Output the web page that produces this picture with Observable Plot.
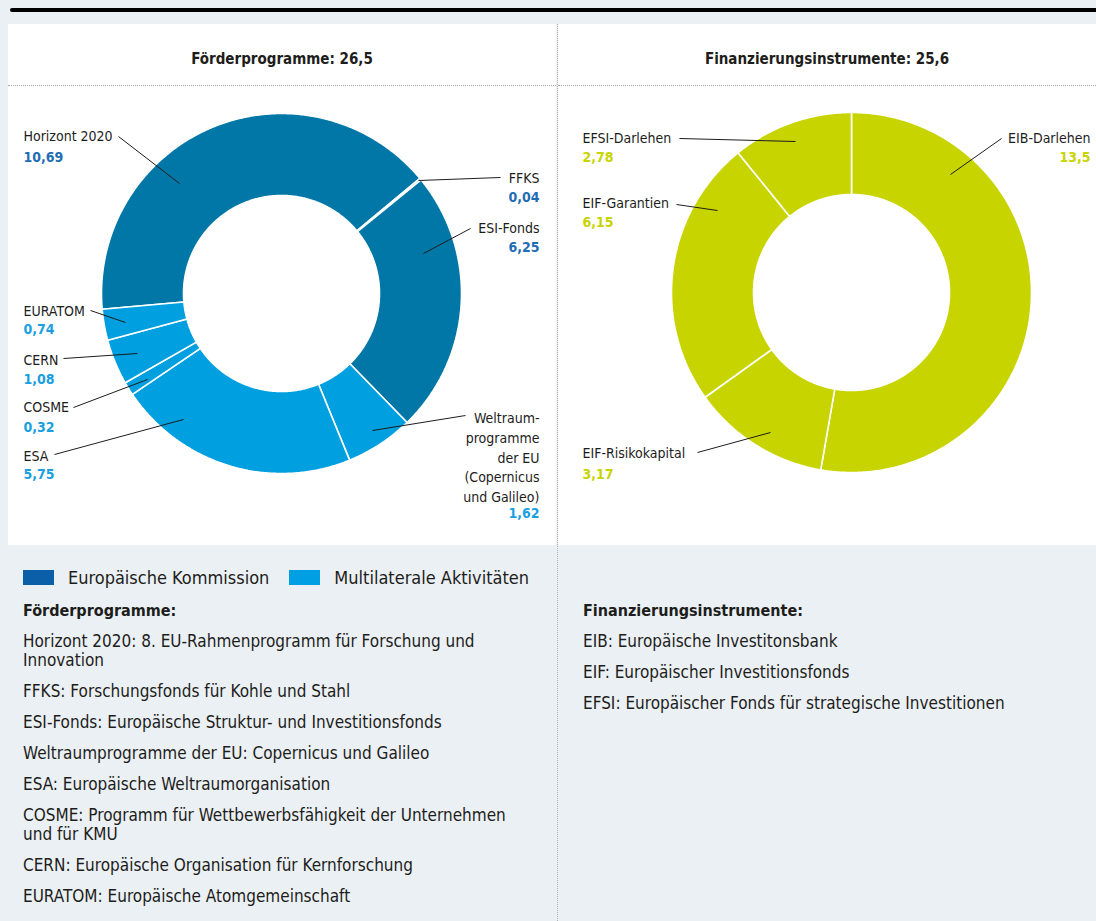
<!DOCTYPE html>
<html><head><meta charset="utf-8">
<script src="https://cdn.jsdelivr.net/npm/d3@7"></script>
<script src="https://cdn.jsdelivr.net/npm/@observablehq/plot@0.6"></script>
<style>
body{margin:0;background:#ebf0f4;font-family:"DejaVu Sans Condensed","DejaVu Sans",sans-serif;font-stretch:condensed;color:#1d1d1b;}
#page{position:relative;width:1096px;height:921px;overflow:hidden;}
#topbar{position:absolute;left:10px;top:8px;width:1100px;height:4px;background:#000;border-radius:2px;}
.panel{position:absolute;top:24px;height:521px;background:#fff;}
#pl{left:8px;width:548px}
#pr{left:558px;width:538px}
.title{position:absolute;left:0;right:0;top:23px;height:24px;line-height:24px;text-align:center;font-weight:bold;font-size:15px;}
.hrule{position:absolute;left:0;right:0;top:61px;border-top:1px dotted #a9a9a9;}
.chart{position:absolute;left:0;top:62px;}
#vdiv{position:absolute;left:557px;top:24px;height:897px;border-left:1px dotted #b0b0b0;}
.notes{position:absolute;top:569px;font-size:17px;line-height:19px;white-space:nowrap;}
.legend{display:flex;align-items:center;height:19px;white-space:nowrap;font-size:18px;margin-top:-1px;margin-bottom:1px;}
.sw{display:inline-block;flex:none;width:31px;height:15px;margin-right:14px;}
.legend span.t{margin-right:20px}
.head{font-weight:bold;margin-top:14px;font-size:16px;}
.item{margin-top:12px;}
</style>
</head><body>
<div id="page">
  <div id="topbar"></div>
  <div class="panel" id="pl"><div class="title">Förderprogramme: 26,5</div><div class="hrule"></div><div class="chart" id="cl"></div></div>
  <div class="panel" id="pr"><div class="title">Finanzierungsinstrumente: 25,6</div><div class="hrule"></div><div class="chart" id="cr"></div></div>
  <div id="vdiv"></div>
  <div class="notes" style="left:23px;width:530px">
    <div class="legend"><span class="sw" style="background:#0a5fa8"></span><span class="t">Europäische Kommission</span><span class="sw" style="background:#009fe3"></span><span class="t">Multilaterale Aktivitäten</span></div>
    <div class="head">Förderprogramme:</div>
    <div class="item">Horizont 2020: 8. EU-Rahmenprogramm für Forschung und<br>Innovation</div>
    <div class="item">FFKS: Forschungsfonds für Kohle und Stahl</div>
    <div class="item">ESI-Fonds: Europäische Struktur- und Investitionsfonds</div>
    <div class="item">Weltraumprogramme der EU: Copernicus und Galileo</div>
    <div class="item">ESA: Europäische Weltraumorganisation</div>
    <div class="item">COSME: Programm für Wettbewerbsfähigkeit der Unternehmen<br>und für KMU</div>
    <div class="item">CERN: Europäische Organisation für Kernforschung</div>
    <div class="item">EURATOM: Europäische Atomgemeinschaft</div>
  </div>
  <div class="notes" style="left:583px;width:500px">
    <div class="legend"></div>
    <div class="head">Finanzierungsinstrumente:</div>
    <div class="item">EIB: Europäische Investitonsbank</div>
    <div class="item">EIF: Europäischer Investitionsfonds</div>
    <div class="item">EFSI: Europäischer Fonds für strategische Investitionen</div>
  </div>
</div>
<script>
// ---------- Data ----------
const groupNames = ["Europäische Kommission", "Multilaterale Aktivitäten"];
const groupSliceColors = ["#0077a7", "#009fe0"];
const groupValueColors = ["#1f6db4", "#1a9fe0"];

const foerderNames = ["Horizont 2020", "FFKS", "ESI-Fonds", "Weltraumprogramme der EU (Copernicus und Galileo)", "ESA", "COSME", "CERN", "EURATOM"];
const foerderLabels = ["Horizont 2020", "FFKS", "ESI-Fonds", "Weltraum-\nprogramme\nder EU\n(Copernicus\nund Galileo)", "ESA", "COSME", "CERN", "EURATOM"];
const foerderValues = [10.69, 0.04, 6.25, 1.62, 5.75, 0.32, 1.08, 0.74];
const foerderGroups = [0, 0, 0, 1, 1, 1, 1, 1];

const finNames = ["EIB-Darlehen", "EIF-Risikokapital", "EIF-Garantien", "EFSI-Darlehen"];
const finValues = [13.5, 3.17, 6.15, 2.78];
const finColor = "#c8d400";

// ---------- Annotation layout (chart units: px offsets from donut centre, y up) ----------
const foerderLayout = [
  {x: -258, y: 157, vy: 136, anchor: "start", l: [-163, 157, -102, 110]},
  {x: 258, y: 115, vy: 96, anchor: "end", l: [219, 116, 137, 113]},
  {x: 258, y: 65, vy: 46, anchor: "end", l: [189, 65, 142, 40]},
  {x: 258, y: -122, vy: -220, anchor: "end", l: [184, -122, 91, -137]},
  {x: -258, y: -163, vy: -181, anchor: "start", l: [-227, -161, -98, -126]},
  {x: -258, y: -114, vy: -134, anchor: "start", l: [-208, -114, -134, -86]},
  {x: -258, y: -67, vy: -86, anchor: "start", l: [-218, -65, -144, -60]},
  {x: -258, y: -18, vy: -36, anchor: "start", l: [-191, -17, -156, -29]}
];
const finLayout = [
  {x: 239, y: 154, vy: 135, anchor: "end", l: [150, 154, 99, 118]},
  {x: -269, y: -161, vy: -182, anchor: "start", l: [-154, -160, -81, -140]},
  {x: -269, y: 89, vy: 70, anchor: "start", l: [-175, 88, -134, 82]},
  {x: -269, y: 154, vy: 135, anchor: "start", l: [-172, 154, -56, 151]}
];

const R_OUT = 180, R_IN = 98;
const FONT = '"DejaVu Sans Condensed","DejaVu Sans",sans-serif';
const fmt = v => String(v).replace(".", ",");

function donut({names, labels, values, fills, valueFills, startDeg, layout, width, height, cx, cy}) {
  const rows = names.map((n, i) => ({name: n, value: values[i], fill: fills[i], vfill: valueFills[i], label: labels[i], ...layout[i]}));
  const a0 = startDeg * Math.PI / 180;
  const arcs = d3.pie().sort(null).value(d => d.value).startAngle(a0).endAngle(a0 + 2 * Math.PI)(rows);
  const pts = [];
  for (const a of arcs) {
    const n = Math.max(2, Math.ceil((a.endAngle - a.startAngle) / (Math.PI / 360)));
    for (let k = 0; k <= n; k++) {
      const t = a.startAngle + (a.endAngle - a.startAngle) * k / n;
      pts.push({name: a.data.name, fill: a.data.fill, x: R_OUT * Math.sin(t), y: R_OUT * Math.cos(t)});
    }
    for (let k = n; k >= 0; k--) {
      const t = a.startAngle + (a.endAngle - a.startAngle) * k / n;
      pts.push({name: a.data.name, fill: a.data.fill, x: R_IN * Math.sin(t), y: R_IN * Math.cos(t)});
    }
  }
  const fillDomain = Array.from(new Set(fills));
  const marks = [];
  for (const f of fillDomain) {
    marks.push(Plot.line(pts.filter(p => p.fill === f), {x: "x", y: "y", z: "name", fill: f, stroke: "white", strokeWidth: 1.6, curve: "linear-closed", strokeLinejoin: "miter"}));
  }
  marks.push(Plot.link(rows, {x1: d => d.l[0], y1: d => d.l[1], x2: d => d.l[2], y2: d => d.l[3], stroke: "#1d1d1b", strokeWidth: 1}));
  for (const anchor of ["start", "end"]) {
    const sub = rows.filter(d => d.anchor === anchor);
    marks.push(Plot.text(sub.filter(d => !d.label.includes("\n")), {x: "x", y: "y", text: "label", textAnchor: anchor, lineAnchor: "middle", fill: "#1d1d1b", fontSize: 14}));
    marks.push(Plot.text(sub.filter(d => d.label.includes("\n")), {x: "x", y: d => d.y + 6, text: "label", textAnchor: anchor, lineAnchor: "top", lineHeight: 1.4, fill: "#1d1d1b", fontSize: 14}));
    for (const vf of new Set(valueFills)) {
      marks.push(Plot.text(sub.filter(d => d.vfill === vf), {x: "x", y: "vy", text: d => fmt(d.value), textAnchor: anchor, lineAnchor: "middle", fill: vf, fontSize: 14, fontWeight: "bold"}));
    }
  }
  return Plot.plot({
    width, height, margin: 0,
    x: {domain: [-cx, width - cx], axis: null},
    y: {domain: [-(height - cy), cy], axis: null},
    style: {fontFamily: FONT, background: "transparent", overflow: "visible"},
    marks
  });
}

document.getElementById("cl").appendChild(donut({
  names: foerderNames, labels: foerderLabels, values: foerderValues,
  fills: foerderGroups.map(g => groupSliceColors[g]),
  valueFills: foerderGroups.map(g => groupValueColors[g]),
  startDeg: -95, layout: foerderLayout, width: 548, height: 459, cx: 273, cy: 207
}));
document.getElementById("cr").appendChild(donut({
  names: finNames, labels: finNames, values: finValues,
  fills: finNames.map(() => finColor), valueFills: finNames.map(() => finColor),
  startDeg: 0, layout: finLayout, width: 538, height: 459, cx: 293, cy: 206
}));
</script>
</body></html>
